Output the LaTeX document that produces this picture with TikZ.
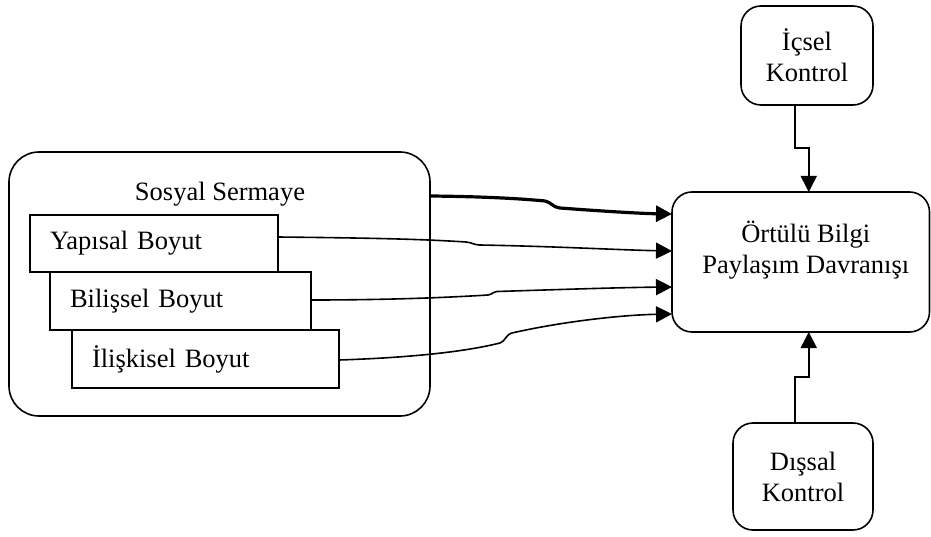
\documentclass[tikz,border=0pt]{standalone}
\usepackage{fontspec}
\setmainfont{Liberation Serif}
\usetikzlibrary{arrows.meta,calc}
\begin{document}
\begin{tikzpicture}[x=1pt,y=-1pt,
  every node/.style={font=\fontsize{26.5}{31}\selectfont, inner sep=0pt, outer sep=0pt},
  outerbox/.style={draw, line width=1.6pt, rounded corners=30pt},
  rbox/.style={draw, line width=1.6pt, rounded corners=20pt, align=center},
  dimbox/.style={draw, fill=white, line width=1.6pt, inner xsep=20pt, align=left},
  arr/.style={line width=1.6pt, -{Triangle[length=16pt,width=16pt]}},
  thickarr/.style={line width=3.2pt, -{Triangle[length=16pt,width=16pt]}}
]
\useasboundingbox (0,0) rectangle (931,537);

% left group
\node[outerbox, minimum width=421pt, minimum height=264pt] (ss) at (219.5,284) {};
\node (sst) at (220,194) {Sosyal Sermaye};
\node[dimbox, text width=208pt, minimum height=57pt] (yap) at (154,243.5) {Yapısal Boyut};
\node[dimbox, text width=221pt, minimum height=58pt] (bil) at (180.5,301) {Bilişsel Boyut};
\node[dimbox, text width=227pt, minimum height=58pt] (ili) at (205.5,359) {İlişkisel Boyut};

% right group
\node[rbox, minimum width=257.5pt, minimum height=140pt] (ob) at (800.75,262) {};
\node[align=center] (obt) at ($(ob.center)+(5,-12)$) {Örtülü Bilgi\\Paylaşım Davranışı};
\node[rbox, minimum width=132pt, minimum height=99pt] (ic) at (807,55.5) {İçsel\\Kontrol};
\node[rbox, minimum width=140pt, minimum height=107pt] (ds) at (803,476.5) {Dışsal\\Kontrol};

% curved connectors
\draw[thickarr] ($(ss.east)+(0,-88)$) .. controls (480,196.5) and (520,198.5) .. (545,201)
   .. controls (551,202) and (553,207.5) .. (560,208)
   .. controls (600,211) and (640,213.5) .. ($(ob.west)+(0,-48)$);
\draw[arr] ($(yap.east)+(0,-6.5)$) .. controls (370,238) and (420,239) .. (466,242)
   .. controls (472,242.5) and (474,245) .. (480,245)
   .. controls (560,246.5) and (620,250) .. ($(ob.west)+(0,-11)$);
\draw[arr] ($(bil.east)+(0,-1)$) .. controls (380,300) and (440,298) .. (488,295)
   .. controls (492,294.5) and (493,292) .. (497,291.5)
   .. controls (560,289.5) and (620,287.5) .. ($(ob.west)+(0,25)$);
\draw[arr] ($(ili.east)+(0,1)$) .. controls (400,358) and (460,353) .. (500,343)
   .. controls (506,341) and (505,335) .. (512,333)
   .. controls (560,322) and (620,315) .. ($(ob.west)+(0,52)$);

% control connectors
\draw[arr] ($(ic.south)+(-12,0)$) -- ++(0,43) -| ($(ob.north)+(8,0)$);
\draw[arr] ($(ds.north)+(-8,0)$) -- ++(0,-46) -| ($(ob.south)+(8,0)$);
\end{tikzpicture}
\end{document}
